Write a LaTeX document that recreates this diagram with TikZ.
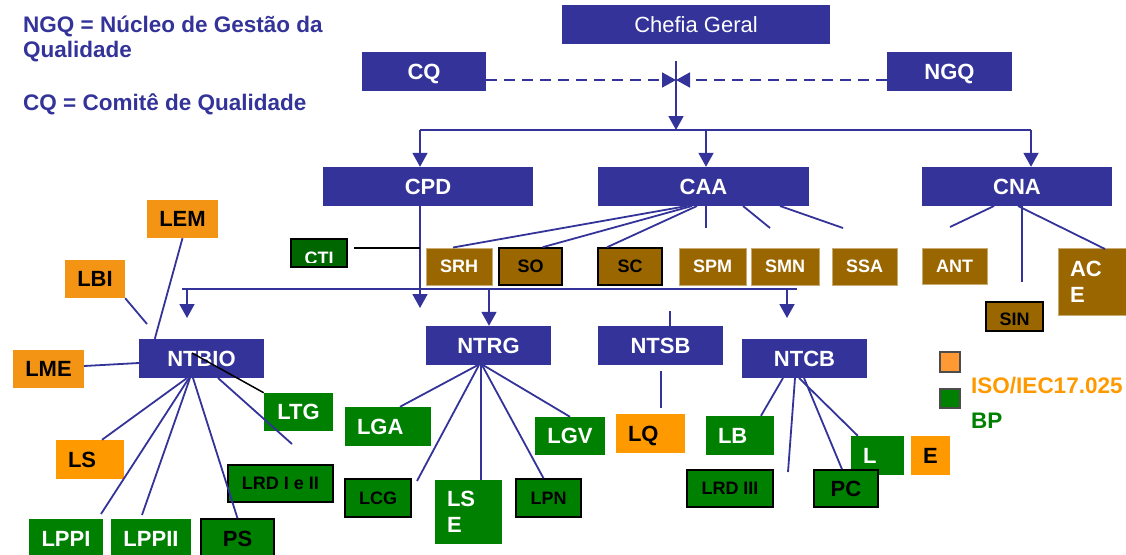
\documentclass[tikz,border=0pt]{standalone}
\usepackage{fontspec}
\setmainfont{Liberation Sans}
\usetikzlibrary{arrows.meta,calc}
\definecolor{navy}{HTML}{333399}
\definecolor{org}{HTML}{F39414}
\definecolor{org2}{HTML}{FF9900}
\definecolor{lorg}{HTML}{FF9933}
\definecolor{grn}{HTML}{008000}
\definecolor{dgrn}{HTML}{006600}
\definecolor{brn}{HTML}{996600}
\newcommand\Bx[7]{%
 \pgfmathsetmacro\bw{#5-#3}\pgfmathsetmacro\bh{#6-#4}%
 \pgfmathsetmacro\bcx{(#3+#5)/2}\pgfmathsetmacro\bcy{(#4+#6)/2}%
 \node[#1, minimum width=\bw pt, minimum height=\bh pt] (#2) at (\bcx,\bcy) {#7};}
\newcommand\Bl[7]{%
 \pgfmathsetmacro\bw{#5-#3}\pgfmathsetmacro\bh{#6-#4}\pgfmathsetmacro\tw{#5-#3-24}%
 \pgfmathsetmacro\bcx{(#3+#5)/2}\pgfmathsetmacro\bcy{(#4+#6)/2}%
 \node[#1, minimum width=\bw pt, minimum height=\bh pt, inner xsep=12pt, text width=\tw pt, align=left] (#2) at (\bcx,\bcy) {#7};}
\begin{document}
\begin{tikzpicture}[x=1pt,y=-1pt,
 lab/.style={font=\bfseries\fontsize{22}{26}\selectfont, text height=15.8pt, text depth=0pt},
 labm/.style={font=\bfseries\fontsize{22}{26}\selectfont},
 sm/.style={font=\bfseries\fontsize{18}{21}\selectfont, text height=12.9pt, text depth=0pt},
 nv/.style={fill=navy, text=white, inner sep=0pt},
 ob/.style={fill=org, text=black, inner sep=0pt},
 ob2/.style={fill=org2, text=black, inner sep=0pt},
 gb/.style={fill=grn, text=white, inner sep=0pt},
 gk/.style={fill=grn, text=black, draw=black, line width=1.5pt, inner sep=0pt},
 bb/.style={fill=brn, text=white, draw=brn!55!white, line width=1pt, inner sep=0pt},
 bk/.style={fill=brn, text=black, draw=black, line width=1.5pt, inner sep=0pt},
 con/.style={navy, line width=1.8pt},
 arr/.style={con, -{Triangle[length=14pt,width=15pt]}},
 ttl/.style={anchor=base west, font=\bfseries\fontsize{22.5}{26}\selectfont, inner sep=0pt}
]
\useasboundingbox (0,0) rectangle (1126,554);

% title texts
\node[ttl, text=navy] (t1) at (23,32) {NGQ = Núcleo de Gestão da};
\node[ttl, text=navy] (t2) at (23,57) {Qualidade};
\node[ttl, text=navy] (t3) at (23,110) {CQ = Comitê de Qualidade};

% top level
\Bx{nv, font=\fontsize{22}{26}\selectfont, text height=15.8pt, text depth=0pt}{chefia}{562}{5}{830}{44}{Chefia Geral}
\Bx{nv,lab}{cq}{362}{52}{486}{91}{CQ}
\Bx{nv,lab}{ngq}{887}{52}{1012}{91}{NGQ}
\Bx{nv,lab}{cpd}{323}{167}{533}{206}{CPD}
\Bx{nv,lab}{caa}{598}{167}{809}{206}{CAA}
\Bx{nv,lab}{cna}{922}{167}{1112}{206}{CNA}

% left orange
\Bx{ob,lab}{lem}{147}{200}{218}{238}{LEM}
\Bx{ob,lab}{lbi}{65}{260}{125}{298}{LBI}
\Bx{ob,lab}{lme}{13}{350}{84}{388}{LME}
\Bl{ob2,lab}{ls}{56}{440}{124}{479}{LS}

% CTI (clipped text)
\Bx{fill=dgrn, draw=black, line width=1.5pt}{cti}{291}{239}{347}{267}{}
\begin{scope}
\clip (292,240) rectangle (346,262);
\node[sm, text=white, anchor=north, inner sep=0pt] (ctit) at (319,251) {CTI};
\end{scope}

% CAA children
\Bx{bb,sm}{srh}{426}{248}{492}{285}{SRH}
\Bx{bk,sm}{so}{499}{248}{562}{285}{SO}
\Bx{bk,sm}{sc}{598}{248}{662}{285}{SC}
\Bx{bb,sm}{spm}{679}{248}{746}{285}{SPM}
\Bx{bb,sm}{smn}{751}{248}{819}{285}{SMN}
\Bx{bb,sm}{ssa}{832}{248}{897}{285}{SSA}

% CNA children
\Bx{bb,sm}{ant}{922}{248}{987}{284}{ANT}
\Bl{bb,labm}{ace}{1058}{248}{1128}{315}{AC\\E}
\Bx{fill=brn, draw=black, line width=1.5pt}{sin}{986}{302}{1043}{331}{}
\begin{scope}
\clip (987,303) rectangle (1042,325);
\node[sm, text=black, anchor=north, inner sep=0pt] (sint) at (1014.5,312) {SIN};
\end{scope}

% second level
\Bx{nv,lab}{ntbio}{139}{339}{264}{378}{NTBIO}
\Bx{nv,lab}{ntrg}{426}{326}{551}{365}{NTRG}
\Bx{nv,lab}{ntsb}{598}{326}{723}{365}{NTSB}
\Bx{nv,lab}{ntcb}{742}{339}{867}{378}{NTCB}

% labs
\Bx{gb,lab}{ltg}{264}{393}{333}{431}{LTG}
\Bl{gb,lab}{lga}{345}{407}{431}{446}{LGA}
\Bx{gb,lab}{lgv}{535}{417}{605}{455}{LGV}
\Bl{ob2,lab}{lq}{616}{414}{685}{453}{LQ}
\Bl{gb,lab}{lb}{706}{416}{774}{455}{LB}
\Bl{gb,lab}{lnode}{851}{436}{904}{475}{L}
\Bx{ob2,lab}{enode}{911}{436}{950}{475}{E}
\Bx{gk,sm}{lrd}{228}{465}{333}{502}{LRD I e II}
\Bx{gk,sm}{lcg}{345}{479}{411}{517}{LCG}
\Bl{gb,labm}{lse}{435}{480}{502}{544}{LS\\E}
\Bx{gk,sm}{lpn}{516}{479}{581}{517}{LPN}
\Bx{gk,sm}{lrdiii}{687}{470}{773}{507}{LRD III}
\Bx{gk,lab}{pc}{814}{470}{878}{507}{PC}
\Bx{gb,lab}{lppi}{29}{519}{103}{559}{LPPI}
\Bx{gb,lab}{lppii}{111}{519}{191}{559}{LPPII}
\Bx{gk,lab}{ps}{201}{519}{274}{559}{PS}

% legend
\Bx{fill=lorg, draw=black!70, line width=1.2pt}{sq1}{940}{352}{960}{372}{}
\Bx{fill=grn, draw=black!70, line width=1.2pt}{sq2}{940}{389}{960}{408}{}
\node[ttl, text=org2] (iso) at (971,393) {ISO/IEC17.025};
\node[ttl, text=grn] (bp) at (971,428) {BP};

% ---- connectors ----
\coordinate (jn) at (676,80);
\coordinate (cqe) at (486,80);
\coordinate (ngw) at (887,80);
\draw[arr, dash pattern=on 11pt off 7pt] (cqe) -- (jn);
\draw[arr, dash pattern=on 11pt off 7pt] (ngw) -- (jn);
\coordinate (jt) at (676,61);
\coordinate (jb) at (676,130);
\draw[arr] (jt) -- (jb);

\coordinate (b1) at (420,130);
\coordinate (b2) at (706,130);
\coordinate (b3) at (1031,130);
\draw[con] (b1) -- (b3);
\draw[arr] (b1) -- (b1 |- cpd.north);
\draw[arr] (b2) -- (b2 |- caa.north);
\draw[arr] (b3) -- (b3 |- cna.north);

% CPD down + CTI
\coordinate (cpdd) at (420,308);
\draw[arr] (b1 |- cpd.south) -- (cpdd);
\coordinate (ctil) at (354,248);
\coordinate (ctir) at (420,248);
\draw[black, line width=1.5pt] (ctil) -- (ctir);

% bus to NT*
\coordinate (c1) at (182,289);
\coordinate (c2) at (797,289);
\draw[con] (c1) -- (c2);
\coordinate (d1) at (187,289);
\coordinate (d1e) at (187,318);
\draw[arr] (d1) -- (d1e);
\coordinate (d2) at (489,289);
\draw[arr] (d2) -- (d2 |- ntrg.north);
\coordinate (d3) at (787,289);
\coordinate (d3e) at (787,318);
\draw[arr] (d3) -- (d3e);

% CAA fan
\coordinate (ca1) at (687,206);
\coordinate (ca2) at (692,206);
\coordinate (ca3) at (697,206);
\draw[con] (ca1) -- ($(srh.north)+(-6,0)$);
\draw[con] (ca2) -- ($(so.north)+(12,0)$);
\draw[con] (ca3) -- ($(sc.north)+(-23,0)$);
\coordinate (ca4) at (706,206); \coordinate (ca4e) at (706,228);
\coordinate (ca5) at (743,206); \coordinate (ca5e) at (770,228);
\coordinate (ca6) at (780,206); \coordinate (ca6e) at (843,228);
\draw[con] (ca4) -- (ca4e);
\draw[con] (ca5) -- (ca5e);
\draw[con] (ca6) -- (ca6e);

% CNA fan
\coordinate (cn1) at (994,206); \coordinate (cn1e) at (950,227);
\coordinate (cn2) at (1022,206); \coordinate (cn2e) at (1022,282);
\coordinate (cn3) at (1018,206); \coordinate (cn3e) at (1105,249);
\draw[con] (cn1) -- (cn1e);
\draw[con] (cn2) -- (cn2e);
\draw[con] (cn3) -- (cn3e);

% NTSB
\coordinate (ns1) at (670,311);
\draw[con] (ns1) -- (ns1 |- ntsb.north);
\coordinate (ns2) at (661,371); \coordinate (ns2e) at (661,408);
\draw[con] (ns2) -- (ns2e);

% NTBIO
\draw[con] (lem.south) -- ($(ntbio.north west)+(16,0)$);
\coordinate (lbe2) at (147,324);
\draw[con] (lbi.south east) -- (lbe2);
\draw[con] ($(lme.east)+(0,-3)$) -- ($(ntbio.west)+(0,4.5)$);
\coordinate (nb1) at (187,378);
\coordinate (nb2) at (189,378); \coordinate (nb2e) at (101,514);
\coordinate (nb3) at (190,378); \coordinate (nb3e) at (142,515);
\coordinate (nb4) at (193,378);
\coordinate (nb5) at (218,378); \coordinate (nb5e) at (292,444);
\draw[con] (nb1) -- ($(ls.north)+(12,0)$);
\draw[con] (nb2) -- (nb2e);
\draw[con] (nb3) -- (nb3e);
\draw[con] (nb4) -- (ps.north);
\draw[con] (nb5) -- (nb5e);
\coordinate (nbk) at (192,353);
\draw[black, line width=1.5pt] (nbk) -- (ltg.north west);

% NTRG
\coordinate (nr1) at (478,365);
\coordinate (nr2) at (479,365); \coordinate (nr2e) at (417,481);
\coordinate (nr3) at (481,365);
\coordinate (nr4) at (482,365);
\coordinate (nr5) at (483,365);
\draw[con] (nr1) -- ($(lga.north)+(12,0)$);
\draw[con] (nr2) -- (nr2e);
\draw[con] (nr3) -- (nr3 |- lse.north);
\draw[con] (nr4) -- ($(lpn.north)+(-5,0)$);
\draw[con] (nr5) -- (lgv.north);

% NTCB
\coordinate (nc1) at (783,378);
\coordinate (nc2) at (795,378); \coordinate (nc2e) at (788,472);
\coordinate (nc3) at (804,378);
\coordinate (nc4) at (799,378);
\draw[con] (nc1) -- ($(lb.north)+(21,0)$);
\draw[con] (nc2) -- (nc2e);
\draw[con] (nc3) -- ($(pc.north)+(-4,0)$);
\draw[con] (nc4) -- ($(lnode.north west)+(7,0)$);
\end{tikzpicture}
\end{document}
